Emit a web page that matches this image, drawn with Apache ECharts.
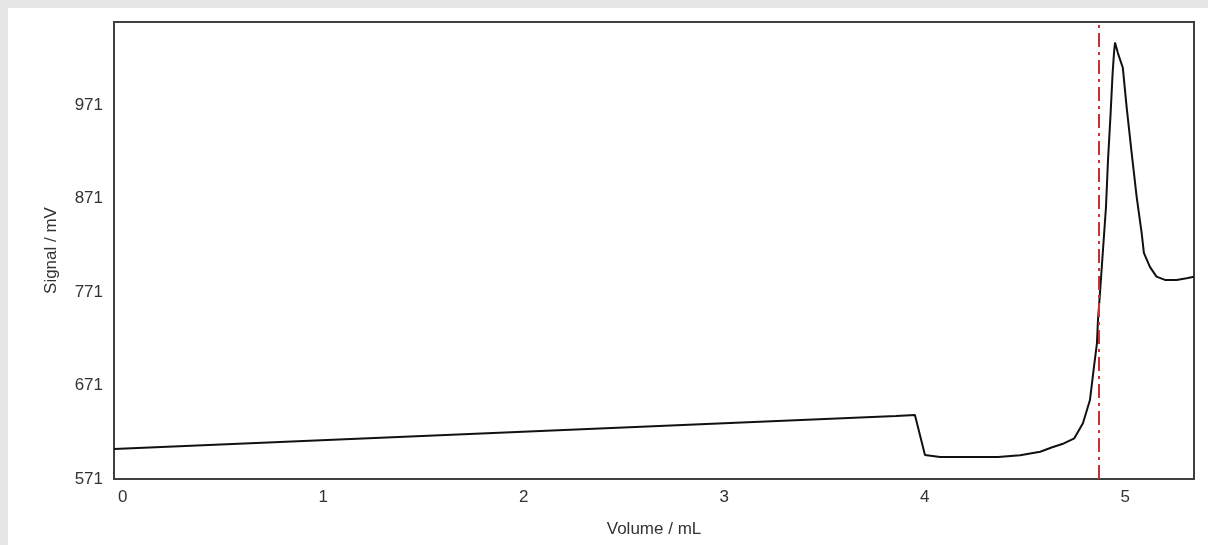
<!DOCTYPE html>
<html>
<head>
<meta charset="utf-8">
<script src="https://cdn.jsdelivr.net/npm/echarts@6/dist/echarts.min.js"></script>
<style>
html,body{margin:0;padding:0;background:#e6e6e6;width:1208px;height:545px;overflow:hidden;}
#panel{position:absolute;left:8px;top:8px;width:1200px;height:537px;background:#ffffff;}
#chart{width:1200px;height:537px;}
</style>
</head>
<body>
<div id="panel"><div id="chart"></div></div>
<script>
const volumes = [0, 3.90, 3.995, 4.045, 4.12, 4.41, 4.52, 4.62, 4.68, 4.73, 4.79, 4.833, 4.868, 4.888, 4.903, 4.908, 4.918, 4.933, 4.948, 4.958, 4.971, 4.981, 4.988, 4.993, 5.007, 5.032, 5.051, 5.076, 5.101, 5.126, 5.137, 5.167, 5.20, 5.242, 5.30, 5.35, 5.387];
const signals = [603, 638.5, 639.5, 596.7, 594.6, 594.6, 596.5, 600.2, 605, 608.4, 614.5, 630.6, 655.5, 691, 716.5, 741, 770, 816, 862, 912, 962, 1005, 1027, 1038, 1027, 1011, 969, 920, 873, 834, 813, 798, 787.5, 784, 784, 785.7, 787.4];
const xTicks = [0, 1, 2, 3, 4, 5];
const yTicks = [571, 671, 771, 871, 971];
const endpointVolume = 4.913;
const xRange = [0, 5.387];
const yRange = [571, 1060];

const chart = echarts.init(document.getElementById('chart'));
const font = '"Liberation Sans", Arial, sans-serif';
chart.setOption({
  animation: false,
  backgroundColor: '#ffffff',
  grid: {left: 106, top: 14, right: 14, bottom: 66, show: true, borderColor: '#404040', borderWidth: 2, containLabel: false},
  xAxis: {
    type: 'value', min: xRange[0], max: xRange[1], interval: 1,
    name: 'Volume / mL', nameLocation: 'middle', nameGap: 42,
    nameTextStyle: {fontFamily: font, fontSize: 17, color: '#333'},
    axisLine: {show: true, lineStyle: {color: '#404040', width: 2}},
    axisTick: {show: false},
    splitLine: {show: false},
    axisLabel: {
      fontFamily: font, fontSize: 17, color: '#333', margin: 10, align: 'left', padding: [0, 0, 0, 4],
      showMaxLabel: false,
      formatter: v => xTicks.indexOf(Math.round(v * 1000) / 1000) >= 0 ? String(v) : ''
    }
  },
  yAxis: {
    type: 'value', min: yRange[0], max: yRange[1], interval: 100,
    name: 'Signal / mV', nameLocation: 'middle', nameGap: 54,
    nameTextStyle: {fontFamily: font, fontSize: 17, color: '#333'},
    axisLine: {show: true, lineStyle: {color: '#404040', width: 2}},
    axisTick: {show: false},
    splitLine: {show: false},
    axisLabel: {
      fontFamily: font, fontSize: 17, color: '#333', margin: 11,
      showMaxLabel: false,
      formatter: v => yTicks.indexOf(Math.round(v)) >= 0 ? String(Math.round(v)) : ''
    }
  },
  series: [{
    type: 'line',
    data: volumes.map((v, i) => [v, signals[i]]),
    showSymbol: false,
    lineStyle: {color: '#111111', width: 2},
    markLine: {
      silent: true, symbol: 'none', label: {show: false},
      lineStyle: {color: '#c83232', width: 2, type: [14, 5, 3, 5]},
      data: [{xAxis: endpointVolume}]
    }
  }]
});
</script>
</body>
</html>
